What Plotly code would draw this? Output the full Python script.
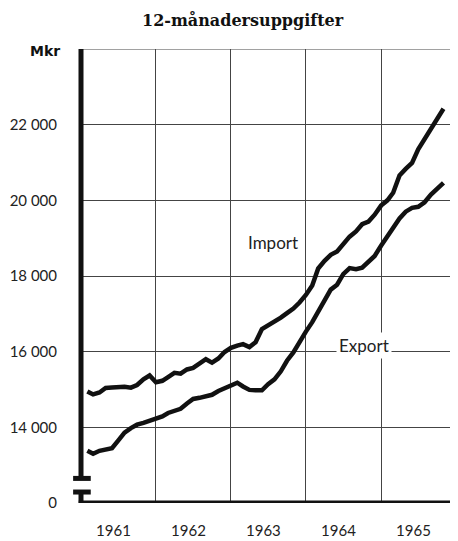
"""12-månadersuppgifter: import och export, Mkr, 1961-1965."""

import pandas as pd
import plotly.graph_objects as go

# 12-month moving totals, one value per month (Jan 1961 .. Oct 1965)
months = pd.date_range("1961-02-01", periods=58, freq="MS")

import_mkr = [
    14950, 14870, 14920, 15040, 15050, 15055, 15075, 15050, 15120, 15270, 15370, 15190,
    15230, 15330, 15440, 15420, 15530, 15570, 15680, 15800, 15710, 15820, 15990, 16100,
    16160, 16200, 16120, 16250, 16600, 16690, 16790, 16900, 17020, 17140, 17300, 17500,
    17750, 18200, 18400, 18560, 18650, 18860, 19040, 19180, 19370, 19440, 19620, 19860,
    20000, 20200, 20660, 20830, 20990, 21350, 21620, 21930, 22160, 22420,
]

export_mkr = [
    13380, 13300, 13380, 13420, 13450, 13650, 13860, 13980, 14070, 14120, 14170, 14220,
    14290, 14380, 14430, 14490, 14630, 14750, 14780, 14820, 14860, 14960, 15030, 15110,
    15180, 15080, 14990, 14980, 14980, 15140, 15270, 15480, 15760, 15980, 16280, 16530,
    16780, 17050, 17350, 17640, 17770, 18050, 18210, 18180, 18220, 18380, 18530, 18800,
    19050, 19250, 19520, 19700, 19800, 19830, 19950, 20150, 20300, 20460,
]

y_ticks = [12000, 14000, 16000, 18000, 20000, 22000]
y_labels = ["0", "14 000", "16 000", "18 000", "20 000", "22 000"]

grid = "#444444"
ink = "#111111"

fig = go.Figure()
for vals in (import_mkr, export_mkr):
    fig.add_trace(go.Scatter(
        x=months, y=vals, mode="lines",
        line=dict(color=ink, width=4.5),
        showlegend=False, hoverinfo="skip",
    ))

# page body adds an 8px margin, so the figure is a bit smaller than the window
fig.update_layout(
    width=450, height=533,
    margin=dict(l=68, r=2, t=41, b=32),
    paper_bgcolor="white", plot_bgcolor="white",
    font=dict(family="Lato, sans-serif", size=15, color="#222222"),
    xaxis=dict(
        type="date", range=["1961-01-01", "1966-01-01"],
        tick0="1961-01-01", dtick="M12", tickformat="%Y",
        ticklabelmode="period", ticklabelshift=-5, ticklabelstandoff=17,
        showgrid=True, gridcolor=grid, gridwidth=1,
        showline=False, zeroline=False, ticks="",
    ),
    yaxis=dict(
        range=[12000, 24000],
        tickvals=y_ticks, ticktext=y_labels,
        ticklabelstandoff=23,
        showgrid=True, gridcolor=grid, gridwidth=1,
        showline=False, zeroline=False, ticks="",
    ),
)

# frame: thin top and right borders, thick left and bottom axes with a break
shapes = [
    dict(type="line", xref="paper", yref="y", x0=0, x1=1, y0=24000, y1=24000,
         line=dict(color=grid, width=1.2)),
    dict(type="line", xref="paper", yref="paper", x0=1, x1=1, y0=0, y1=1,
         line=dict(color=grid, width=1.2)),
    dict(type="line", xref="paper", yref="y", x0=0, x1=0, y0=12650, y1=24000,
         line=dict(color=ink, width=5)),
    dict(type="line", xref="paper", yref="y", x0=0, x1=0, y0=12000, y1=12290,
         line=dict(color=ink, width=5)),
    dict(type="line", xref="paper", yref="y", x0=-0.021, x1=0.026, y0=12650, y1=12650,
         line=dict(color=ink, width=5)),
    dict(type="line", xref="paper", yref="y", x0=-0.021, x1=0.026, y0=12290, y1=12290,
         line=dict(color=ink, width=5)),
    dict(type="line", xref="paper", yref="y", x0=-0.006, x1=1, y0=12000, y1=12000,
         line=dict(color=ink, width=5)),
]
fig.update_layout(shapes=shapes)

fig.add_annotation(
    text="12-månadersuppgifter", xref="paper", yref="paper",
    x=0.4316, y=1.063, xanchor="center", yanchor="middle", showarrow=False,
    font=dict(family="DejaVu Serif", size=16, color=ink, weight="bold"),
)
fig.add_annotation(
    text="Mkr", xref="paper", yref="paper",
    x=-0.095, y=0.996, xanchor="center", yanchor="middle", showarrow=False,
    font=dict(family="DejaVu Sans", size=14, color=ink, weight="bold"),
)
fig.add_annotation(
    text="Import", x="1963-07-25", y=18890, showarrow=False,
    xanchor="center", yanchor="middle",
    font=dict(family="Lato, sans-serif", size=17, color="#222222"),
)
fig.add_annotation(
    text="Export", x="1964-10-12", y=16160, showarrow=False,
    xanchor="center", yanchor="middle", bgcolor="white", borderpad=2,
    font=dict(family="Lato, sans-serif", size=17, color="#222222"),
)

fig.write_html("out.html")
